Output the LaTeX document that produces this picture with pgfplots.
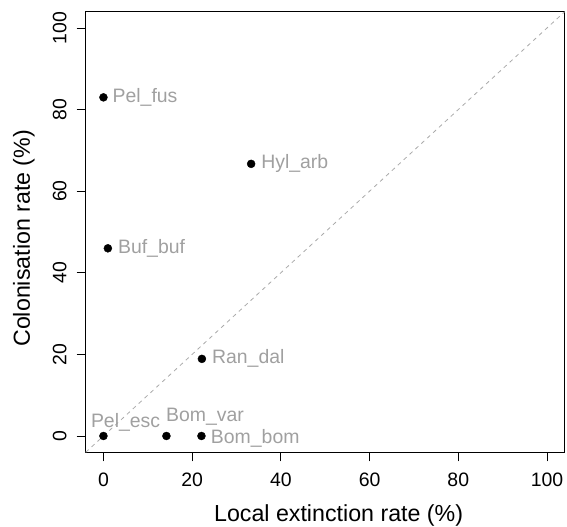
\documentclass[border=0pt]{standalone}
\usepackage{fontspec}
\setmainfont{Liberation Sans}
\usepackage{pgfplots}
\pgfplotsset{compat=1.18}
\definecolor{lab}{RGB}{160,160,160}
\definecolor{diag}{RGB}{170,170,170}
\begin{document}
\begin{tikzpicture}[x=1bp,y=1bp]
\useasboundingbox (0,0) rectangle (567,527);
\begin{axis}[
  at={(85.7bp,74.7bp)}, anchor=south west,
  scale only axis, width=479bp, height=440.6bp,
  xmin=-4, xmax=104, ymin=-4, ymax=104,
  xtick={0,20,40,60,80,100}, ytick={0,20,40,60,80,100},
  tick pos=left, tick align=outside, major tick length=9bp,
  every tick/.style={black, line width=0.8bp},
  axis line style={line width=0.9bp},
  /pgf/number format/assume math mode=true,
  tick label style={font=\fontsize{19.5}{22}\selectfont, inner sep=0pt},
  xticklabel style={anchor=north, yshift=-11.7bp},
  yticklabel style={xshift=-10bp, rotate=90, anchor=south},
  xlabel={Local extinction rate (\%)},
  ylabel={Colonisation rate (\%)},
  label style={font=\fontsize{23.3}{26}\selectfont, inner sep=0pt},
  xlabel style={at={([yshift=-68.7bp]axis description cs:0.528,0)}, anchor=base},
  ylabel style={at={([xshift=-55.7bp]axis description cs:0,0.4857)}, rotate=0, anchor=base},
  clip=false,
]
\addplot[diag, dashed, line width=0.8bp, dash pattern=on 4bp off 4bp, forget plot] coordinates {(-4,-4) (104,104)};
\addplot[only marks, mark=*, mark size=4bp, mark options={fill=black, draw=black}] coordinates {
(0,83) (33.3,66.7) (1,46) (22.2,18.9) (0,0) (14.2,0) (22.1,0)
};
\begin{scope}[every node/.style={text=lab, font=\fontsize{19.5}{22}\selectfont, inner sep=0pt}]
\node[anchor=west, xshift=9bp] at (axis cs:0,83) {Pel\_fus};
\node[anchor=west, xshift=10bp] at (axis cs:33.3,66.7) {Hyl\_arb};
\node[anchor=west, xshift=10bp] at (axis cs:1,46) {Buf\_buf};
\node[anchor=west, xshift=10bp] at (axis cs:22.2,18.9) {Ran\_dal};
\node[anchor=west, xshift=9.3bp, yshift=-2bp] at (axis cs:22.1,0) {Bom\_bom};
\node[anchor=base west, xshift=-12.6bp, yshift=8bp] at (axis cs:0,0) {Pel\_esc};
\node[anchor=base west, xshift=-0.5bp, yshift=14bp] at (axis cs:14.2,0) {Bom\_var};
\end{scope}
\end{axis}
\end{tikzpicture}
\end{document}
